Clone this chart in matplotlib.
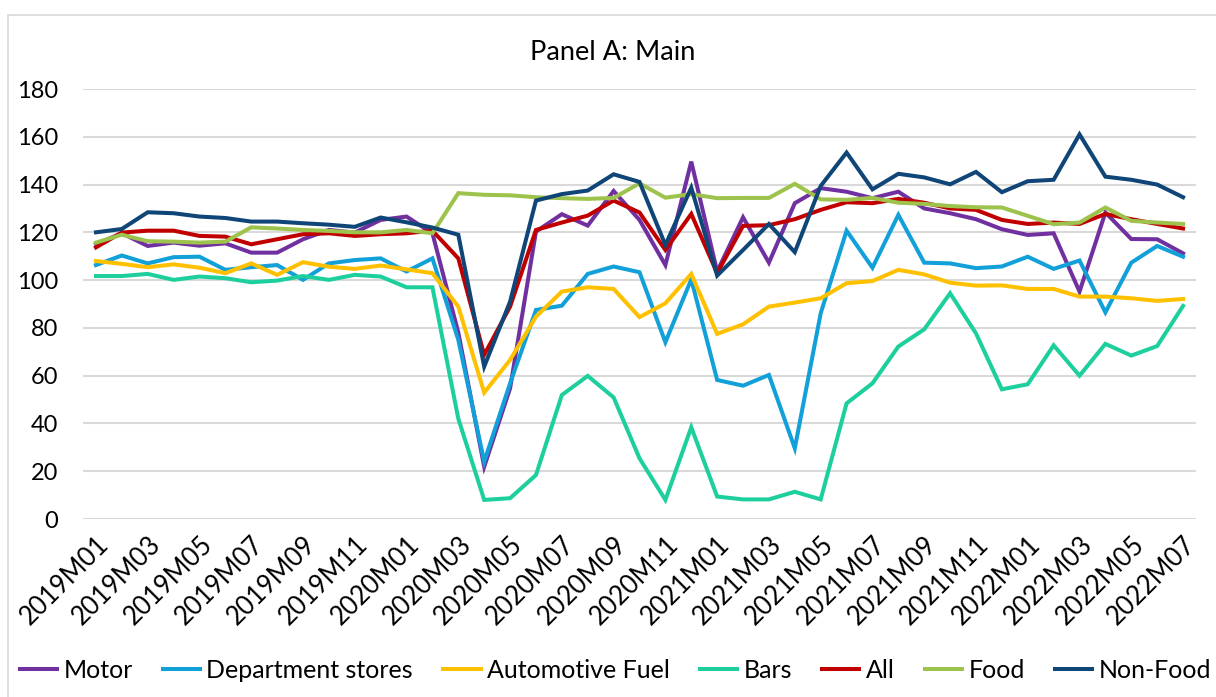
import matplotlib
matplotlib.use("Agg")
import matplotlib.pyplot as plt
from matplotlib.patches import Rectangle

plt.rcParams['font.family'] = ['Lato', 'DejaVu Sans']

# categories
months = [f"{y}M{m:02d}" for y in (2019, 2020, 2021, 2022) for m in range(1, 13)][:43]

motor = [115.1, 119.6, 114.3, 115.7, 114.4, 115.4, 111.5, 111.5, 117.1, 121.0,
         119.9, 125.2, 126.6, 119.6, 78.0, 21.9, 54.7, 120.3, 127.6, 122.8,
         137.3, 125.2, 106.3, 149.6, 103.6, 126.3, 107.3, 132.2, 138.5, 137.0,
         134.3, 137.0, 130.0, 128.0, 125.5, 121.3, 118.9, 119.6, 95.2, 128.3,
         117.2, 117.1, 111.2]
dept = [106.3, 110.3, 107.0, 109.6, 109.8, 104.3, 105.4, 106.3, 100.1, 107.0,
        108.4, 109.1, 103.6, 109.1, 75.0, 24.0, 56.8, 87.5, 89.3, 102.6,
        105.7, 103.3, 74.0, 100.3, 58.2, 55.8, 60.3, 29.6, 86.1, 120.7,
        105.2, 127.3, 107.3, 107.0, 105.0, 105.7, 109.8, 104.7, 108.2, 86.5,
        107.3, 114.3, 109.8]
fuel = [108.0, 106.8, 105.4, 106.6, 105.2, 102.9, 107.0, 102.2, 107.5, 105.6,
        104.7, 106.1, 104.5, 102.9, 88.9, 52.9, 66.6, 84.7, 95.2, 97.0,
        96.3, 84.5, 90.3, 102.6, 77.5, 81.5, 88.9, 90.6, 92.4, 98.7,
        99.6, 104.3, 102.4, 98.9, 97.7, 97.8, 96.3, 96.3, 93.1, 93.1,
        92.4, 91.3, 92.1]
bars = [101.7, 101.7, 102.6, 100.1, 101.5, 100.8, 99.1, 99.8, 101.7, 100.1,
        102.2, 101.5, 97.0, 97.0, 42.0, 8.0, 8.7, 18.4, 51.9, 59.9,
        50.9, 25.4, 8.0, 38.4, 9.4, 8.2, 8.2, 11.4, 8.2, 48.4,
        56.8, 72.2, 79.4, 94.5, 77.7, 54.3, 56.4, 72.7, 60.0, 73.3,
        68.4, 72.4, 89.2]
all_ = [113.7, 119.9, 120.7, 120.7, 118.5, 118.2, 115.0, 117.1, 119.2, 119.6,
        118.5, 119.2, 119.6, 120.7, 109.1, 68.7, 88.9, 121.0, 124.1, 127.0,
        133.3, 128.3, 112.6, 127.7, 102.9, 122.7, 123.0, 125.5, 129.4, 132.6,
        132.2, 134.0, 132.4, 130.0, 129.4, 125.2, 123.5, 124.1, 123.5, 127.7,
        125.5, 123.5, 121.6]
food = [115.7, 119.0, 116.3, 116.1, 115.7, 116.1, 122.1, 121.6, 121.0, 120.6,
        120.0, 120.0, 121.0, 119.6, 136.4, 135.7, 135.5, 134.7, 134.3, 134.0,
        134.4, 140.5, 134.5, 136.0, 134.3, 134.4, 134.4, 140.3, 133.8, 133.6,
        134.4, 132.4, 131.9, 131.0, 130.5, 130.4, 126.9, 123.4, 124.1, 130.4,
        124.8, 124.1, 123.5]
nonfood = [120.0, 121.4, 128.4, 128.0, 126.6, 126.0, 124.5, 124.5, 123.8, 123.2,
           122.3, 126.2, 124.2, 122.0, 119.0, 63.8, 91.0, 133.3, 136.0, 137.5,
           144.3, 141.1, 114.7, 138.7, 101.9, 112.6, 123.5, 111.7, 139.4, 153.4,
           138.0, 144.5, 143.0, 140.1, 145.3, 136.8, 141.4, 142.0, 161.0, 143.3,
           142.0, 140.0, 134.7]

series = [("Motor", motor, '#7030A0'),
          ("Department stores", dept, '#12A0D9'),
          ("Automotive Fuel", fuel, '#FFC000'),
          ("Bars", bars, '#1ECF9E'),
          ("All", all_, '#C00000'),
          ("Food", food, '#9DC34C'),
          ("Non-Food", nonfood, '#0F4577')]

fig = plt.figure(figsize=(12.16, 6.97), dpi=100)
ax = fig.add_axes([83/1216, 1-519/697, (1196-83)/1216, (519-89)/697])

x = list(range(len(months)))
for name, vals, col in series:
    ax.plot(x, vals, color=col, lw=2.9, label=name, solid_joinstyle='miter')

ax.set_xlim(-0.5, len(months)-0.5)
ax.set_ylim(0, 180)
ax.set_yticks(range(0, 181, 20))
ax.set_xticks(x[::2])
ax.set_xticklabels(months[::2], rotation=45, ha='right', rotation_mode='anchor')
ax.tick_params(axis='both', length=0, colors='black')
ax.tick_params(axis='x', pad=9, labelsize=18.5)
ax.tick_params(axis='y', pad=18, labelsize=17)
ax.grid(axis='y', color='#D9D9D9', lw=1.5)
ax.set_axisbelow(True)
for s in ax.spines.values():
    s.set_visible(False)

fig.text(0.504, 1-52/697, "Panel A: Main", ha='center', va='center', fontsize=19.5)

fig.legend(loc='center', bbox_to_anchor=(0.506, 1-670/697), ncol=7, frameon=False,
           fontsize=18, handlelength=1.5, handletextpad=0.25, columnspacing=1.2)

fig.patches.append(Rectangle((8/1216, -0.01), 1.2, 1-15/697+0.01, transform=fig.transFigure,
                             fill=False, edgecolor='#D9D9D9', lw=1.2))

fig.savefig("out.png", dpi=100)
